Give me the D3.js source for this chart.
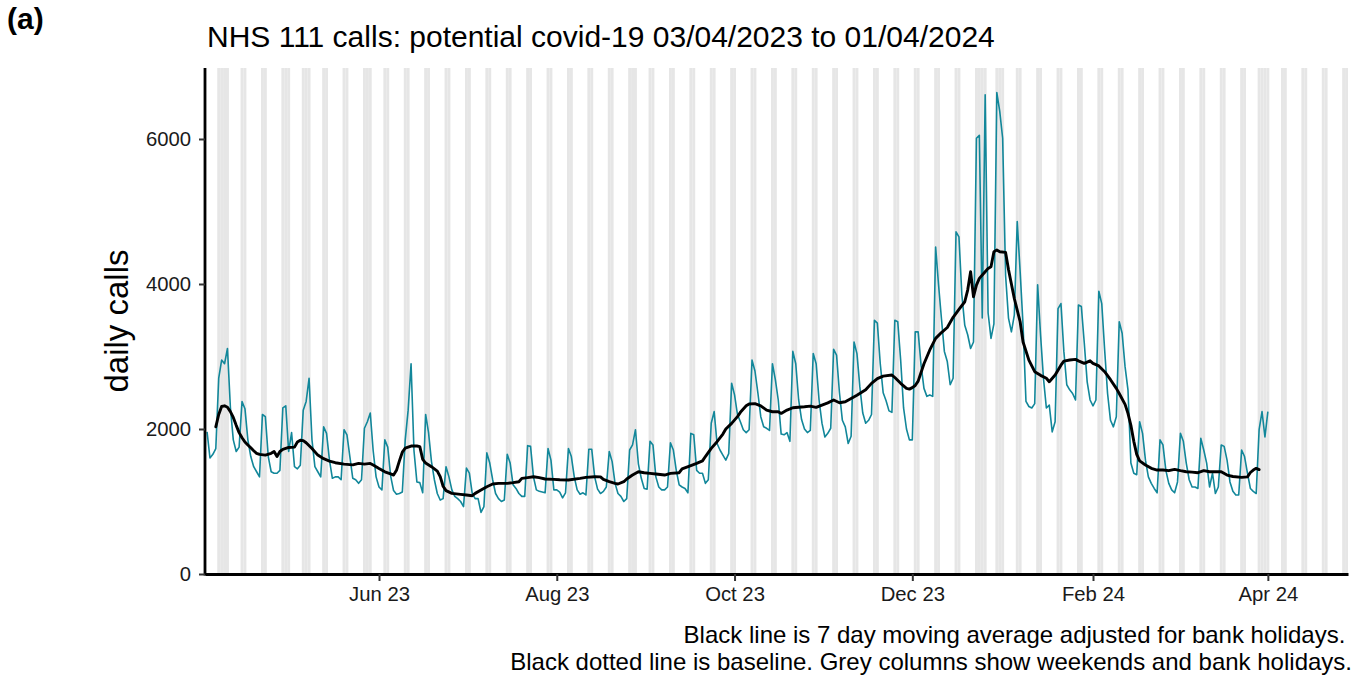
<!DOCTYPE html>
<html>
<head>
<meta charset="utf-8">
<script src="https://cdn.jsdelivr.net/npm/d3@7"></script>
<style>
  html, body { margin: 0; padding: 0; background: #fff; }
  svg { display: block; }
  text { font-family: "Liberation Sans", Arial, Helvetica, sans-serif; }
</style>
</head>
<body>
<svg id="chart" width="1362" height="675"></svg>
<script>
// ---------------- DATA ----------------
const firstDate = "2023-04-03";            // first daily value (Monday)
const axisStart = "2023-04-02T07:00:00Z";  // left edge of the panel
const axisEnd = "2024-04-28T12:00:00Z";    // right edge of the panel

// daily NHS 111 calls, potential covid-19, 03/04/2023 .. 01/04/2024 (Mon..Sun rows)
const calls = [
1960,1600,1650,1730,2700,2950,2900,
3110,2300,1850,1690,1750,2380,2280,
1850,1620,1480,1410,1340,2200,2170,
1620,1410,1390,1390,1430,2290,2320,
1690,1950,1480,1450,1500,2260,2380,
2700,1850,1480,1410,1340,2030,1940,
1570,1320,1340,1340,1300,1990,1920,
1620,1320,1300,1250,1300,2010,2100,
2220,1700,1340,1200,1160,1850,1750,
1350,1150,1100,1110,1130,1850,2260,
2900,1700,1270,1260,1120,2200,1950,
1550,1300,1110,1020,1040,1480,1340,
1160,1070,1040,1000,930,1460,1390,
1110,1040,1040,850,930,1670,1530,
1300,1110,1040,1000,1020,1650,1530,
1230,1180,1110,1070,1070,1770,1760,
1340,1160,1140,1130,1120,1730,1570,
1160,1160,1130,1050,1120,1730,1620,
1340,1160,1100,1120,1090,1720,1720,
1340,1170,1110,1140,1200,1690,1550,
1250,1110,1070,1000,1040,1710,1780,
1990,1520,1320,1180,1170,1830,1780,
1340,1200,1160,1160,1200,1810,1710,
1430,1230,1200,1180,1120,1940,1920,
1430,1390,1390,1250,1300,2080,2240,
1800,1710,1640,1570,1660,2630,2470,
2200,2100,1990,1950,1990,2950,2800,
2500,2170,2030,2010,1980,2900,2680,
2400,1930,1920,1950,1830,3070,2900,
2400,2130,2000,1950,1980,3040,2900,
2400,2080,1890,1940,2010,3100,3020,
2500,2120,2030,1800,1900,3200,3040,
2580,2220,2080,2120,2200,3500,3460,
2900,2500,2390,2250,2230,3500,3480,
2950,2290,2000,1850,1850,3340,3340,
2880,2560,2450,2470,2450,4510,3990,
3520,3070,2930,2610,2700,4720,4650,
3850,3430,3300,3110,3200,6010,6050,
3530,6610,3600,3250,3450,6640,6380,
6010,4120,3530,3340,3570,4860,4170,
3430,2380,2310,2290,2350,3990,3300,
2700,2290,2330,1960,2100,3660,3730,
3070,2610,2540,2490,2400,3710,3690,
3190,2650,2400,2320,2400,3900,3730,
3090,2490,2120,2030,2170,3480,3320,
2860,2540,1530,1390,1370,2100,1940,
1570,1340,1250,1180,1120,1850,1780,
1430,1250,1160,1120,1270,1940,1830,
1530,1300,1200,1200,1180,1870,1710,
1530,1200,1390,1110,1200,1780,1760,
1570,1270,1140,1090,1090,1710,1620,
1390,1180,1140,1110,1990,2240,1890,
2240
];

// 7 day moving average: day offset from firstDate, value
const maDay = [
3,4,5,6,7,8,9,10,11,12,
13,14,15,16,17,18,20,22,23,24,
25,26,28,30,31,32,33,34,36,38,
40,42,44,47,50,52,54,56,57,59,
61,63,64,65,66,67,68,70,72,73,
74,75,77,79,80,81,82,84,87,89,
91,92,94,96,98,100,103,105,107,108,
110,112,114,116,119,121,124,128,130,133,
135,136,138,140,141,143,144,146,148,150,
152,154,157,159,162,163,166,168,170,171,
173,175,177,178,180,182,183,185,186,188,
190,192,194,196,197,199,201,205,207,209,
211,213,215,217,219,221,223,226,228,230,
232,235,236,238,240,241,242,243,244,246,
248,250,252,254,256,258,260,261,262,263,
264,265,267,268,269,270,271,272,274,275,
277,279,280,282,284,286,288,289,291,293,
294,296,298,299,301,303,304,306,308,310,
312,313,315,316,317,318,319,320,322,324,
326,328,330,332,334,336,338,340,342,344,
348,350,352,355,357,358,359,360,361
];
const maValue = [
2030,2200,2310,2320,2300,2240,2160,2050,1950,1880,
1820,1780,1740,1700,1665,1650,1640,1665,1690,1620,
1690,1720,1745,1750,1820,1845,1840,1810,1730,1640,
1590,1558,1535,1515,1505,1525,1515,1525,1503,1455,
1410,1380,1365,1430,1560,1680,1735,1765,1765,1756,
1580,1530,1480,1420,1342,1210,1150,1112,1098,1089,
1080,1112,1158,1204,1241,1250,1250,1260,1273,1319,
1330,1342,1330,1310,1305,1300,1296,1319,1333,1342,
1340,1305,1273,1250,1241,1273,1310,1365,1411,1397,
1388,1379,1365,1388,1397,1450,1495,1526,1560,1620,
1733,1825,1930,2000,2078,2170,2230,2320,2345,2350,
2320,2260,2238,2238,2215,2261,2293,2307,2316,2298,
2330,2360,2400,2362,2376,2420,2465,2540,2629,2695,
2730,2744,2710,2630,2560,2550,2570,2600,2660,2900,
3090,3250,3330,3400,3540,3650,3755,3916,4169,3824,
3985,4077,4169,4215,4238,4445,4468,4445,4436,4200,
3800,3479,3200,2950,2790,2740,2700,2652,2744,2880,
2937,2951,2960,2940,2905,2940,2905,2870,2790,2680,
2560,2490,2340,2215,2050,1830,1650,1560,1503,1457,
1434,1434,1425,1443,1425,1411,1405,1397,1425,1411,
1411,1365,1345,1333,1340,1400,1434,1457,1440
];

const bankHolidays = ["2023-04-07","2023-04-10","2023-05-01","2023-05-08","2023-05-29",
  "2023-08-28","2023-12-25","2023-12-26","2024-01-01","2024-03-29","2024-04-01"];

const xTickDates = ["2023-06-01","2023-08-01","2023-10-01","2023-12-01","2024-02-01","2024-04-01"];
const yTicks = [0, 2000, 4000, 6000];
const yMax = 6979;

const titleText = "NHS 111 calls: potential covid-19 03/04/2023 to 01/04/2024";
const panelLabel = "(a)";
const yLabel = "daily calls";
const captionLines = ["Black line is 7 day moving average adjusted for bank holidays. ",
  "Black dotted line is baseline. Grey columns show weekends and bank holidays."];

// ---------------- DRAW ----------------
const DAY = 864e5;
const L = 205, R = 1348, T = 68, B = 574;
const svg = d3.select("#chart");

const t0 = Date.parse(firstDate + "T00:00:00Z");
const x = d3.scaleUtc().domain([new Date(axisStart), new Date(axisEnd)]).range([L, R]);
const y = d3.scaleLinear().domain([0, yMax]).range([B, T]);

// grey columns: weekends and bank holidays
const bh = new Set(bankHolidays);
const shadeDays = [];
for (let t = Date.parse("2023-03-25T00:00:00Z"); t <= Date.parse("2024-05-05T00:00:00Z"); t += DAY) {
  const dd = new Date(t);
  const wd = dd.getUTCDay();
  if (wd === 0 || wd === 6 || bh.has(d3.utcFormat("%Y-%m-%d")(dd))) shadeDays.push(dd);
}
svg.append("defs").append("clipPath").attr("id", "panel")
  .append("rect").attr("x", L).attr("y", T).attr("width", R - L).attr("height", B - T);

const gPanel = svg.append("g").attr("clip-path", "url(#panel)");
gPanel.selectAll("rect.col").data(shadeDays).join("rect")
  .attr("class", "col")
  .attr("x", d => x(new Date(+d - DAY / 2)))
  .attr("width", d => x(new Date(+d + DAY / 2)) - x(new Date(+d - DAY / 2)))
  .attr("y", T).attr("height", B - T)
  .attr("fill", "#e6e6e6");

// daily calls line
const daily = calls.map((v, i) => ({ date: new Date(t0 + i * DAY), value: v }));
const line = d3.line().x(d => x(d.date)).y(d => y(d.value));
gPanel.append("path").datum(daily)
  .attr("d", line)
  .attr("fill", "none")
  .attr("stroke", "#12879a")
  .attr("stroke-width", 1.6)
  .attr("stroke-linejoin", "round");

// moving average line
const ma = d3.zip(maDay, maValue).map(([d, v]) => ({ date: new Date(t0 + d * DAY), value: v }));
gPanel.append("path").datum(ma)
  .attr("d", line)
  .attr("fill", "none")
  .attr("stroke", "#000")
  .attr("stroke-width", 2.9)
  .attr("stroke-linejoin", "round")
  .attr("stroke-linecap", "round");

// axes
const xAxis = d3.axisBottom(x)
  .tickValues(xTickDates.map(s => new Date(s + "T00:00:00Z")))
  .tickFormat(d3.utcFormat("%b %y"))
  .tickSize(7).tickSizeOuter(0).tickPadding(6);
const gx = svg.append("g").attr("transform", `translate(0,${B})`).call(xAxis);
gx.select(".domain").attr("stroke", "#000").attr("stroke-width", 2.8);
gx.selectAll(".tick line").attr("stroke", "#333").attr("stroke-width", 2);
gx.selectAll(".tick text").attr("font-size", 20.3).attr("fill", "#1a1a1a")
  .attr("font-family", '"Liberation Sans", Arial, sans-serif');

const yAxis = d3.axisLeft(y).tickValues(yTicks).tickFormat(d3.format("d"))
  .tickSize(6).tickSizeOuter(0).tickPadding(8);
const gy = svg.append("g").attr("transform", `translate(${L},0)`).call(yAxis);
gy.select(".domain").attr("stroke", "#000").attr("stroke-width", 2.8)
  .attr("d", `M0,${T}V${B + 1.4}`);
gy.selectAll(".tick line").attr("stroke", "#333").attr("stroke-width", 2);
gy.selectAll(".tick text").attr("font-size", 20.3).attr("fill", "#1a1a1a")
  .attr("font-family", '"Liberation Sans", Arial, sans-serif');

// texts
svg.append("text").attr("x", 7).attr("y", 29)
  .attr("font-size", 30).attr("font-weight", "bold").attr("fill", "#000")
  .text(panelLabel);
svg.append("text").attr("x", 207).attr("y", 47)
  .attr("font-size", 30).attr("fill", "#000")
  .text(titleText);
svg.append("text")
  .attr("transform", `translate(128,${(T + B) / 2}) rotate(-90)`)
  .attr("text-anchor", "middle")
  .attr("font-size", 33).attr("fill", "#000")
  .text(yLabel);
svg.append("g").selectAll("text").data(captionLines).join("text")
  .attr("x", 1352).attr("y", (d, i) => 643 + i * 27)
  .attr("text-anchor", "end")
  .attr("font-size", 24).attr("fill", "#000")
  .attr("xml:space", "preserve")
  .style("white-space", "pre")
  .text(d => d);
</script>
</body>
</html>
